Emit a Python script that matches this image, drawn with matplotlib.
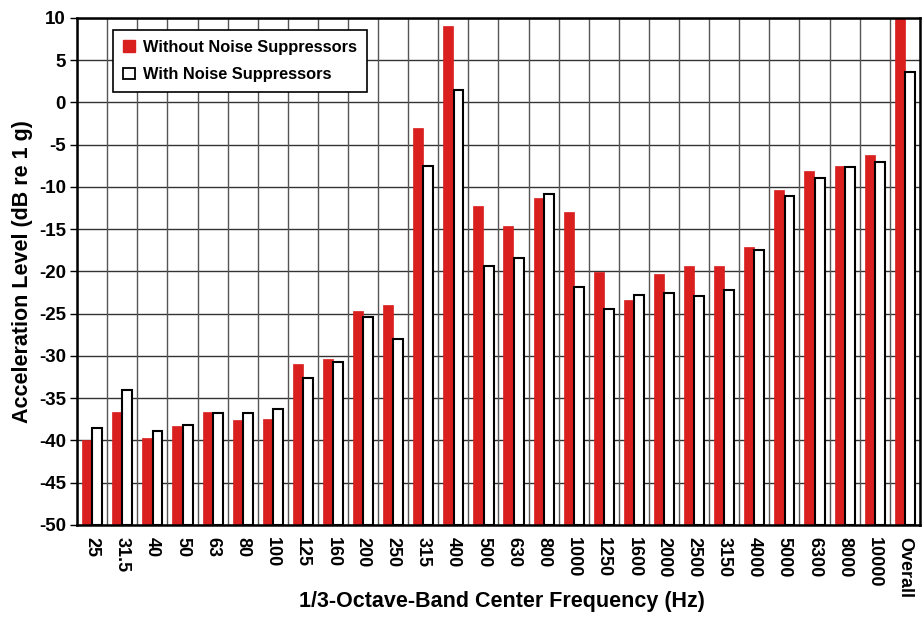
import matplotlib
matplotlib.use("Agg")
import matplotlib.pyplot as plt
import numpy as np
from matplotlib.patches import Patch

categories = ["25", "31.5", "40", "50", "63", "80", "100", "125", "160", "200",
              "250", "315", "400", "500", "630", "800", "1000", "1250", "1600",
              "2000", "2500", "3150", "4000", "5000", "6300", "8000", "10000", "Overall"]
without_ns = [-40.0, -36.6, -39.7, -38.3, -36.6, -37.6, -37.4, -31.0, -30.3, -24.7,
              -24.0, -3.0, 9.1, -12.2, -14.6, -11.25, -13.0, -20.1, -23.35,
              -20.3, -19.4, -19.3, -17.1, -10.4, -8.1, -7.5, -6.2, 10.0]
with_ns = [-38.5, -34.0, -38.85, -38.2, -36.8, -36.8, -36.3, -32.6, -30.7, -25.4,
           -28.0, -7.5, 1.5, -19.3, -18.4, -10.8, -21.85, -24.5, -22.8,
           -22.6, -22.9, -22.2, -17.5, -11.1, -8.9, -7.6, -7.1, 3.6]
yticks = list(range(-50, 11, 5))

plt.rcParams['font.family'] = ['Liberation Sans', 'DejaVu Sans']
plt.rcParams['font.weight'] = 'bold'

fig = plt.figure(figsize=(9.24, 6.18), dpi=100)
ax = fig.add_axes([0.0835, 0.1505, 0.912, 0.8205])

x = np.arange(len(categories))
red = '#d9201f'
ax.bar(x - 0.17, [v + 50 for v in without_ns], bottom=-50, width=0.33,
       color=red, edgecolor=red, linewidth=0.5, zorder=3)
ax.bar(x + 0.17, [v + 50 for v in with_ns], bottom=-50, width=0.33,
       color='white', edgecolor='black', linewidth=1.5, zorder=3)

ax.set_xlim(-0.5, len(categories) - 0.5)
ax.set_ylim(-50, 10)
ax.set_yticks(yticks)
ax.set_yticklabels([str(t) for t in yticks], fontsize=13.5, fontweight='bold')
ax.set_xticks(x)
ax.set_xticklabels(categories, rotation=270, fontsize=13, fontweight='bold',
                   va='top', ha='center')
ax.tick_params(axis='x', length=0, pad=9)
ax.tick_params(axis='y', length=5, width=1, direction='out', pad=3)

# grid: horizontal at yticks, vertical at category boundaries
for t in yticks:
    ax.axhline(t, color='#333333', linewidth=1.0, zorder=1)
for b in np.arange(-0.5, len(categories), 1.0):
    ax.axvline(b, color='#555555', linewidth=1.0, zorder=1)

for s in ax.spines.values():
    s.set_linewidth(1.8)
    s.set_color('black')
    s.set_zorder(5)

ax.set_ylabel('Acceleration Level (dB re 1 g)', fontsize=15.5, fontweight='bold', labelpad=4)
ax.set_xlabel('1/3-Octave-Band Center Frequency (Hz)', fontsize=15.5, fontweight='bold')
ax.xaxis.set_label_coords(0.5, -0.0, transform=fig.transFigure)
ax.xaxis.label.set_verticalalignment('bottom')
ax.xaxis.set_label_coords(0.543, 0.01, transform=fig.transFigure)

handles = [Patch(facecolor=red, edgecolor=red), Patch(facecolor='white', edgecolor='black', linewidth=1.3)]
leg = ax.legend(handles, ['Without Noise Suppressors', 'With Noise Suppressors'],
                loc='upper left', bbox_to_anchor=(0.043, 0.976), borderaxespad=0,
                fontsize=11.8,
                frameon=True, fancybox=False, edgecolor='black', framealpha=1,
                handlelength=0.7, handleheight=0.7, handletextpad=0.5,
                borderpad=0.6, labelspacing=0.75)
leg.get_frame().set_linewidth(1.2)
for t in leg.get_texts():
    t.set_fontweight('bold')
leg.set_zorder(6)

fig.savefig('out.png', dpi=100)
